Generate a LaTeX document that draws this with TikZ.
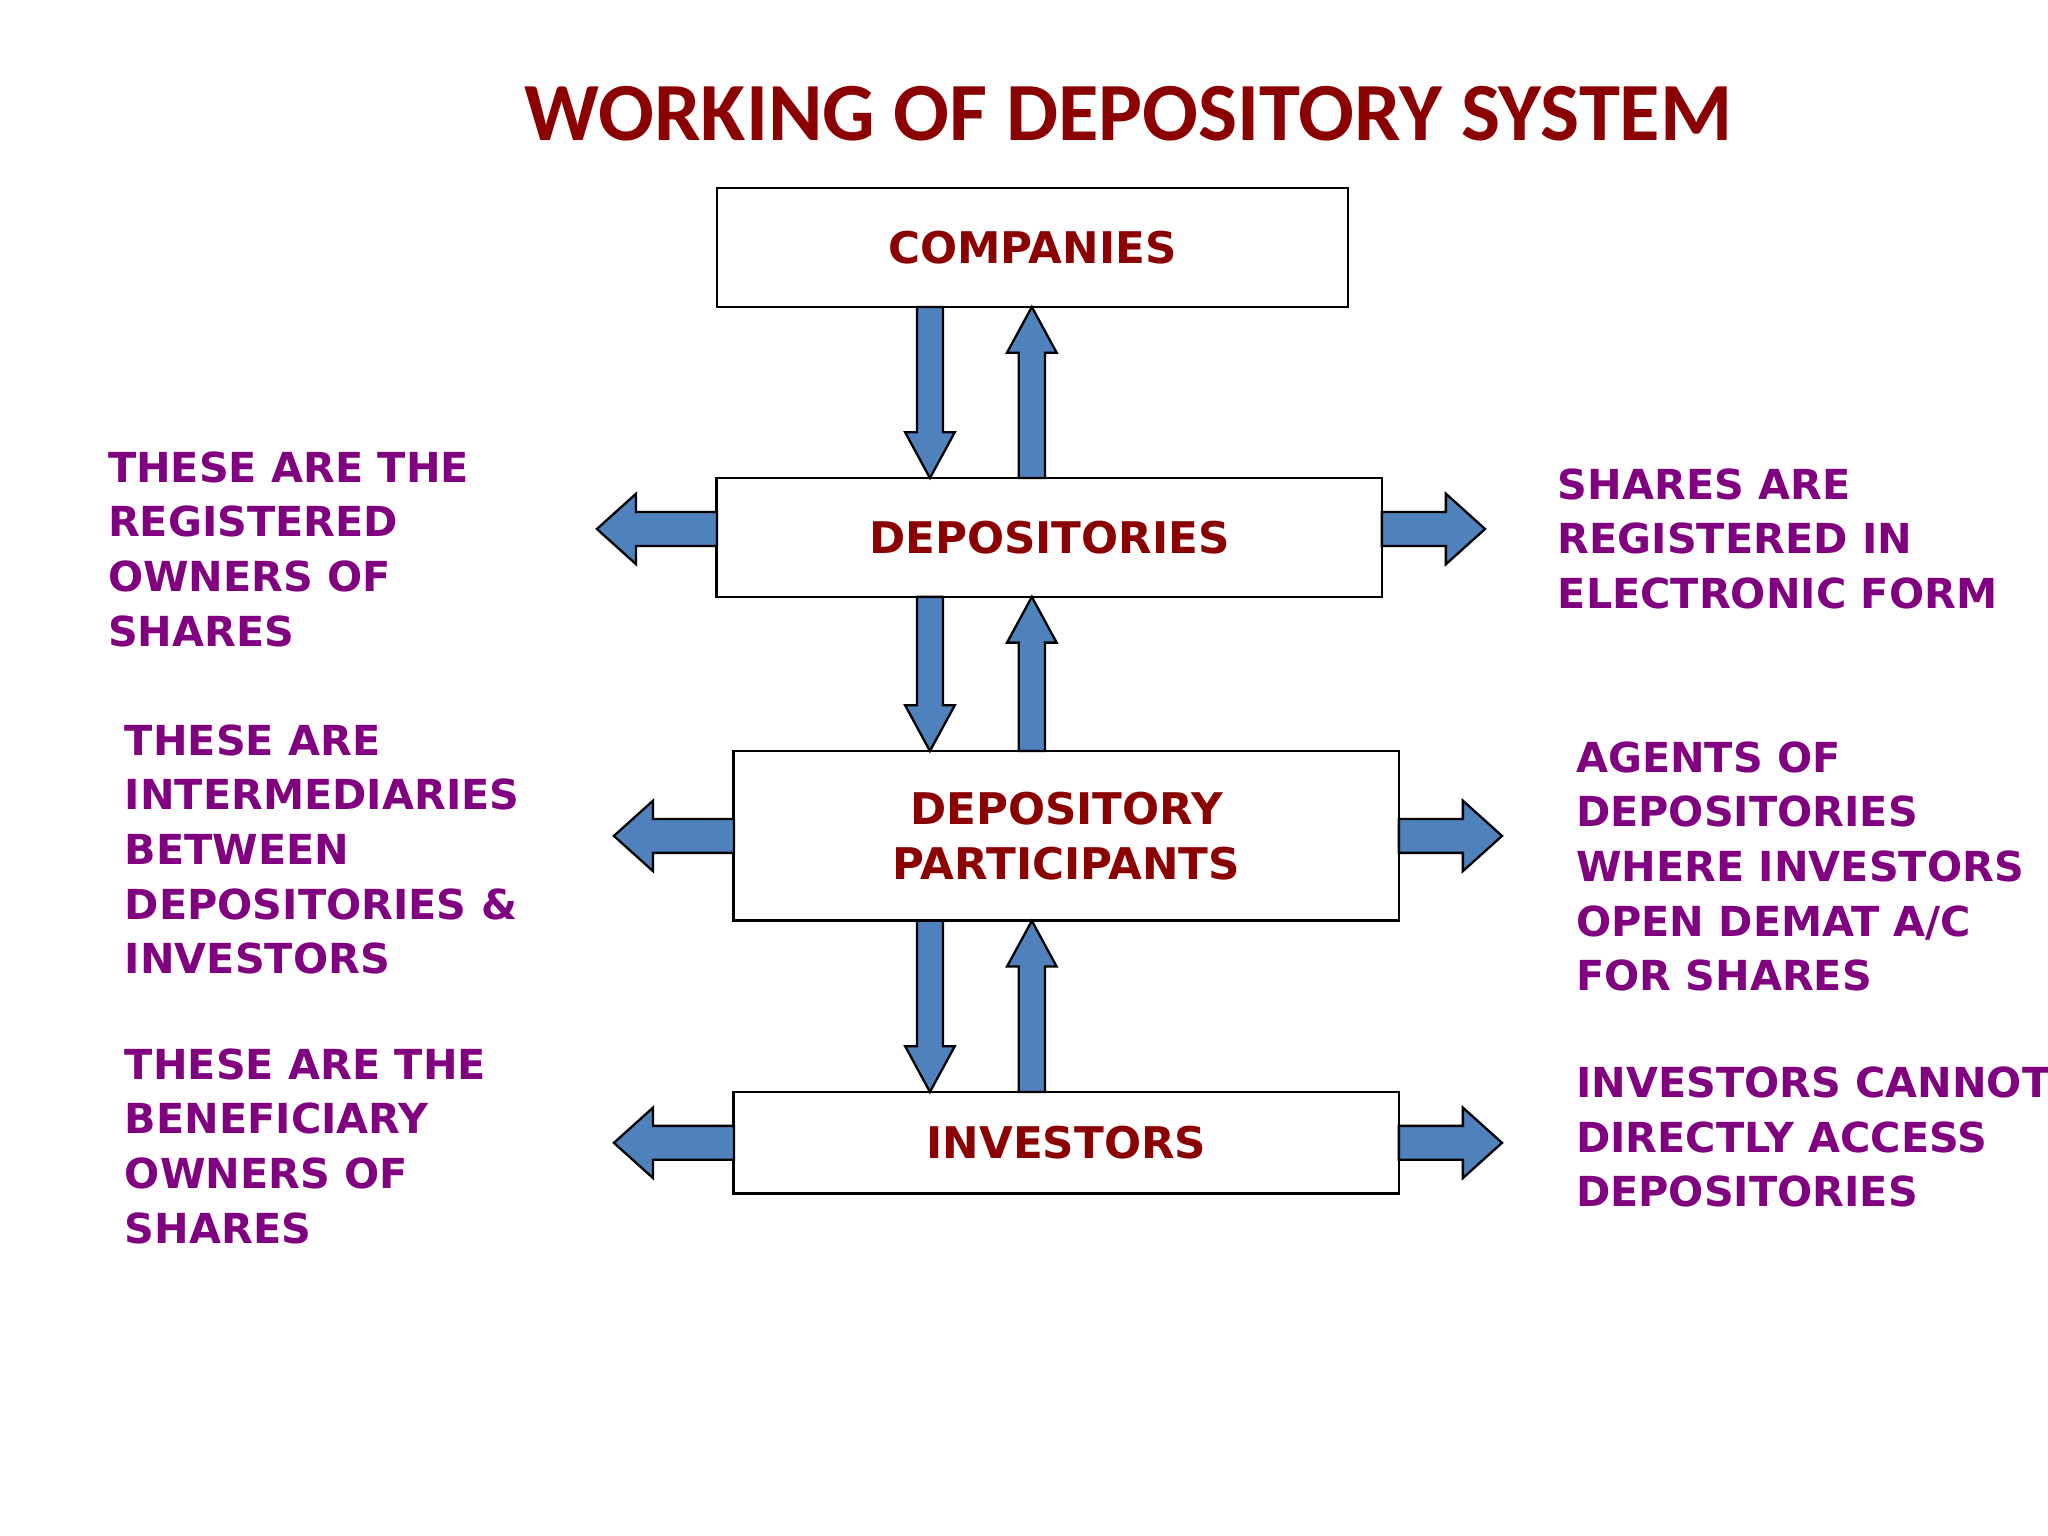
\documentclass[tikz,border=0pt]{standalone}
\usepackage{fontspec}
\setmainfont{DejaVu Sans}
\newfontfamily\titlefont{Carlito}
\definecolor{dred}{HTML}{8B0000}
\definecolor{purp}{HTML}{800080}
\definecolor{ablue}{HTML}{4F81BD}
\begin{document}
\begin{tikzpicture}[x=0.01cm,y=-0.01cm,
  box/.style={draw=black,line width=0.6pt,fill=white,inner sep=0,align=center,font=\fontsize{9.5}{12.0}\selectfont\bfseries,text=dred},
  arr/.style={fill=ablue,draw=black,line width=0.5pt,line join=miter},
  side/.style={anchor=north west,inner sep=0,align=left,text=purp,font=\fontsize{9.0}{11.9}\selectfont\bfseries}]
\useasboundingbox (0,0) rectangle (1568,1176);
\node[text=dred,font=\titlefont\fontsize{18}{22}\selectfont\bfseries] (title) at (864,87) {WORKING OF DEPOSITORY SYSTEM};
\node[box,minimum width=4.83cm,minimum height=0.91cm] (comp) at (790.5,189.5) {COMPANIES};
\node[box,minimum width=5.09cm,minimum height=0.91cm] (dep) at (803.5,411.5) {DEPOSITORIES};
\node[box,minimum width=5.09cm,minimum height=1.30cm] (dp) at (816.5,640) {DEPOSITORY\\PARTICIPANTS};
\node[box,minimum width=5.09cm,minimum height=0.78cm] (inv) at (816.5,875) {INVESTORS};
\newcommand\DArr[3]{\filldraw[arr] (#1-10,#2) -- (#1+10,#2) -- (#1+10,#3-35) -- (#1+19,#3-35) -- (#1,#3) -- (#1-19,#3-35) -- (#1-10,#3-35) -- cycle;}
\newcommand\UArr[3]{\filldraw[arr] (#1-10,#2) -- (#1+10,#2) -- (#1+10,#3+35) -- (#1+19,#3+35) -- (#1,#3) -- (#1-19,#3+35) -- (#1-10,#3+35) -- cycle;}
\newcommand\LArr[3]{\filldraw[arr] (#2,#1-13) -- (#2,#1+13) -- (#3+30,#1+13) -- (#3+30,#1+27) -- (#3,#1) -- (#3+30,#1-27) -- (#3+30,#1-13) -- cycle;}
\newcommand\RArr[3]{\filldraw[arr] (#2,#1-13) -- (#2,#1+13) -- (#3-30,#1+13) -- (#3-30,#1+27) -- (#3,#1) -- (#3-30,#1-27) -- (#3-30,#1-13) -- cycle;}
\DArr{712}{235}{366}\UArr{790}{366}{235}
\DArr{712}{457}{575}\UArr{790}{575}{457}
\DArr{712}{705}{836}\UArr{790}{836}{705}
\LArr{405}{549}{457}\RArr{405}{1058}{1137}
\LArr{640}{562}{470}\RArr{640}{1071}{1150}
\LArr{875}{562}{470}\RArr{875}{1071}{1150}
\node[side] (l1) at (82,345) {THESE ARE THE\\REGISTERED\\OWNERS OF\\SHARES};
\node[side] (l2) at (95,554) {THESE ARE\\INTERMEDIARIES\\BETWEEN\\DEPOSITORIES \&\\INVESTORS};
\node[side] (l3) at (95,802) {THESE ARE THE\\BENEFICIARY\\OWNERS OF\\SHARES};
\node[side] (r1) at (1192,358) {SHARES ARE\\REGISTERED IN\\ELECTRONIC FORM};
\node[side] (r2) at (1206,567) {AGENTS OF\\DEPOSITORIES\\WHERE INVESTORS\\OPEN DEMAT A/C\\FOR SHARES};
\node[side] (r3) at (1206,816) {INVESTORS CANNOT\\DIRECTLY ACCESS\\DEPOSITORIES};
\end{tikzpicture}
\end{document}
